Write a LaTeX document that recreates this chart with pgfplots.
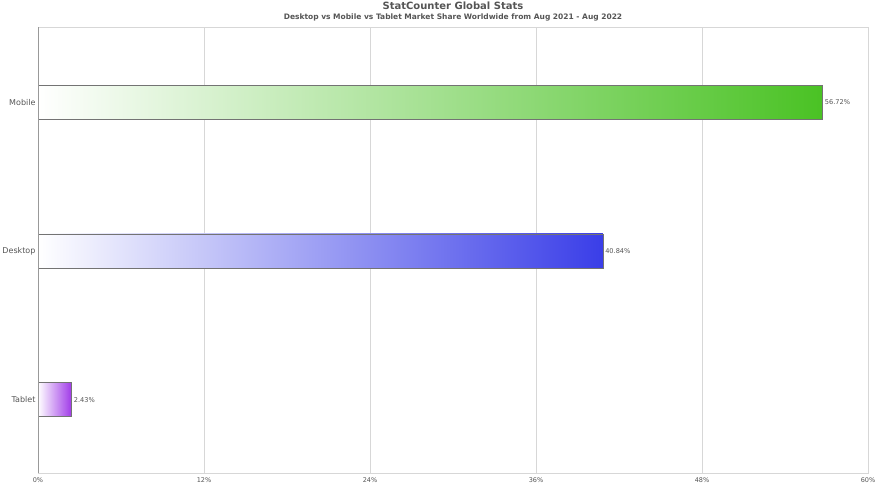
\documentclass[border=0pt]{standalone}
\usepackage{pgfplots}
\pgfplotsset{compat=1.18}
\usepackage{fontspec}
\setmainfont{DejaVu Sans}
\definecolor{mobilec}{RGB}{74,194,36}
\definecolor{desktopc}{RGB}{58,62,232}
\definecolor{tabletc}{RGB}{160,58,232}
\definecolor{txtgray}{RGB}{85,85,85}
\definecolor{gridgray}{RGB}{215,215,215}
\begin{document}
\begin{tikzpicture}
\path[use as bounding box] (-38pt,-22pt) rectangle (842pt,473pt);
\begin{axis}[
  at={(0pt,0pt)}, anchor=south west,
  scale only axis, width=830pt, height=446pt,
  xmin=0, xmax=60, ymin=-0.5, ymax=2.5,
  xtick={0,12,24,36,48,60},
  xticklabel={\pgfmathprintnumber{\tick}\%},
  ytick={0,1,2}, yticklabels={Tablet,Desktop,Mobile},
  /pgf/number format/assume math mode=true,
  major tick length=0pt,
  xmajorgrids, grid style={gridgray, line width=0.6pt},
  axis line style={gridgray, line width=0.8pt},
  tick label style={txtgray},
  xticklabel style={font=\fontsize{6.5}{7}\selectfont, yshift=-1pt},
  yticklabel style={font=\fontsize{8}{9}\selectfont, xshift=1pt, yshift=-1pt},
  xbar, bar width=34pt, bar shift=-1pt,
  nodes near coords={\pgfmathprintnumber[fixed,precision=2,fixed zerofill]{\pgfplotspointmeta}\%},
  nodes near coords style={font=\fontsize{6.6}{7}\selectfont, txtgray, anchor=west, inner sep=2pt},
  point meta=explicit,
  clip=false,
]
\addplot[draw=black!55, line width=0.6pt, left color=white, right color=mobilec] coordinates {(56.72,2) [56.72]};
\addplot[draw=black!55, line width=0.6pt, left color=white, right color=desktopc] coordinates {(40.84,1) [40.84]};
\addplot[draw=black!55, line width=0.6pt, left color=white, right color=tabletc] coordinates {(2.43,0) [2.43]};
\draw[black!40, line width=0.8pt] (axis cs:0,-0.5) -- (axis cs:0,2.5);
\end{axis}
\node[font=\fontsize{10}{12}\bfseries, txtgray] at (415pt,467pt) {StatCounter Global Stats};
\node[font=\fontsize{7.5}{9}\bfseries, txtgray] at (415pt,455.5pt) {Desktop vs Mobile vs Tablet Market Share Worldwide from Aug 2021 - Aug 2022};
\end{tikzpicture}
\end{document}
